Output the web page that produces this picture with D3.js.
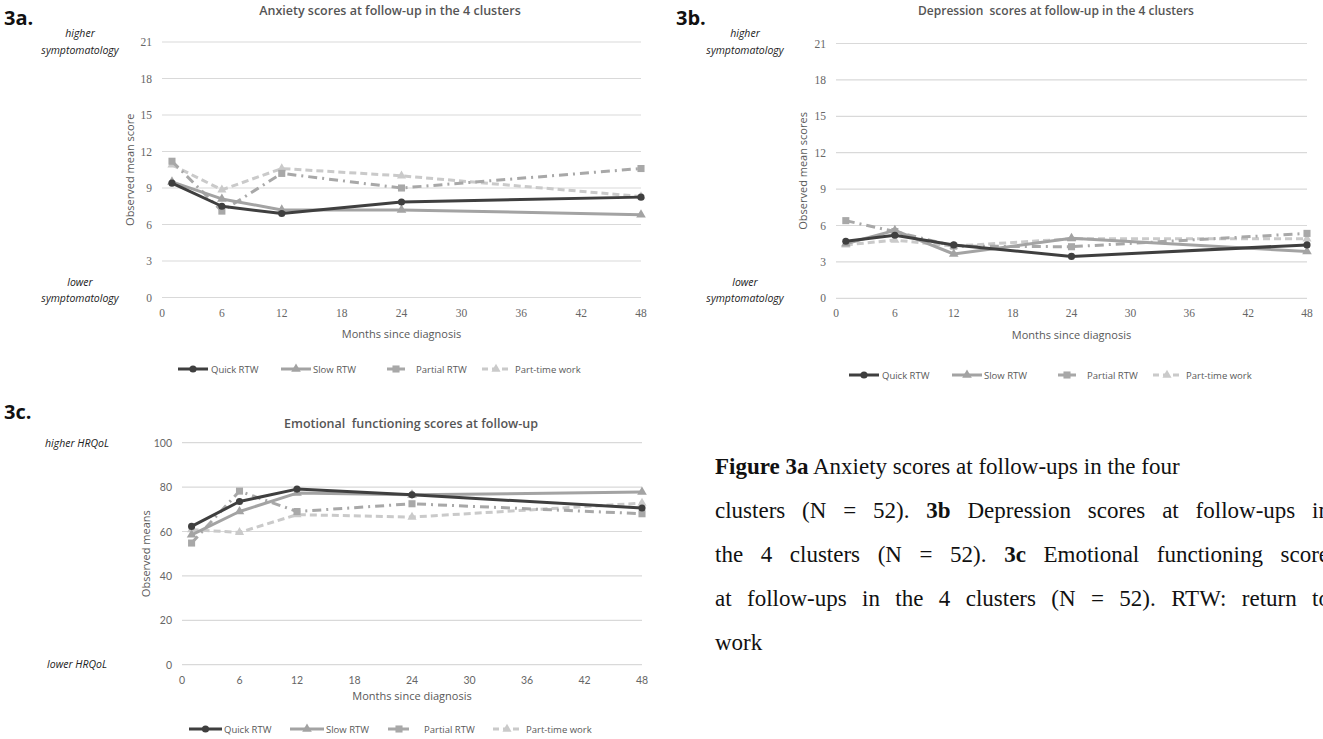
<!DOCTYPE html>
<html>
<head>
<meta charset="utf-8">
<script src="https://cdn.jsdelivr.net/npm/d3@7"></script>
<style>
  body { margin: 0; background: #fff; overflow: hidden; }
  svg { display: block; font-family: "Open Sans", "Lato", sans-serif; }
</style>
</head>
<body>
<svg class="chart" width="1323" height="739"></svg>
<script>
// months since diagnosis at each follow-up
var months = [1, 6, 12, 24, 48];
var xTicks = [0, 6, 12, 18, 24, 30, 36, 42, 48];
var clusters = ["Quick RTW", "Slow RTW", "Partial RTW", "Part-time work"];

// 3a anxiety
var anxQuick = [9.4, 7.5, 6.9, 7.85, 8.25];
var anxSlow = [9.5, 8.1, 7.2, 7.2, 6.8];
var anxPartial = [11.2, 7.1, 10.2, 9.0, 10.6];
var anxParttime = [10.9, 8.85, 10.6, 10.0, 8.3];

// 3b depression
var depQuick = [4.7, 5.2, 4.4, 3.45, 4.4];
var depSlow = [4.5, 5.6, 3.65, 4.95, 3.85];
var depPartial = [6.4, 5.5, 4.3, 4.25, 5.35];
var depParttime = [4.4, 4.8, 4.3, 4.9, 4.9];

// 3c emotional functioning
var emoQuick = [62.3, 73.5, 79.1, 76.5, 70.6];
var emoSlow = [58.5, 69, 77.3, 76.5, 77.8];
var emoPartial = [54.8, 78.2, 69, 72.5, 68];
var emoParttime = [60.8, 59.6, 67.6, 66.5, 72.8];

var hadsTicks = [0, 3, 6, 9, 12, 15, 18, 21];
var emoTicks = [0, 20, 40, 60, 80, 100];

var svg = d3.select(".chart");

var styles = [
    {color: "#3f3f3f", dash: null, width: 3, marker: d3.symbolCircle, size: 40},
    {color: "#a3a3a3", dash: null, width: 3, marker: d3.symbolTriangle, size: 40},
    {color: "#a8a8a8", dash: "9,5,2,5", width: 3, marker: d3.symbolSquare, size: 50},
    {color: "#cacaca", dash: "7,4", width: 3, marker: d3.symbolTriangle, size: 36}
];

function drawPanel(p) {
    var x = d3.scaleLinear().domain([0, 48]).range([p.x0, p.x1]);
    var y = d3.scaleLinear().domain([0, p.ymax]).range([p.y0, p.y1]);
    var g = svg.append("g");

    // panel label
    g.append("text").attr("x", p.labelX).attr("y", p.labelY)
        .attr("font-size", 20).attr("font-weight", "bold").attr("fill", "#111")
        .text(p.label);

    // title
    g.append("text").attr("x", p.titleX).attr("y", p.titleY)
        .attr("text-anchor", "middle").attr("font-size", p.titleSize).attr("font-weight", 600)
        .attr("fill", "#555").attr("xml:space", "preserve")
        .text(p.title);

    // gridlines
    g.selectAll(".grid").data(p.yTicks).enter().append("line")
        .attr("x1", p.x0).attr("x2", p.x1)
        .attr("y1", function(d) { return y(d); }).attr("y2", function(d) { return y(d); })
        .attr("stroke", "#d9d9d9").attr("stroke-width", 1.2);

    // y ticks
    g.selectAll(".yt").data(p.yTicks).enter().append("text")
        .attr("x", p.x0 - 10).attr("y", function(d) { return y(d) + 4; })
        .attr("text-anchor", "end").attr("font-size", p.tickSize).attr("fill", "#666")
        .attr("font-family", p.tickFont)
        .text(function(d) { return d; });

    // x ticks
    g.selectAll(".xt").data(xTicks).enter().append("text")
        .attr("x", function(d) { return x(d); }).attr("y", p.y0 + 19)
        .attr("text-anchor", "middle").attr("font-size", p.tickSize).attr("fill", "#666")
        .attr("font-family", p.tickFont)
        .text(function(d) { return d; });

    // axis titles
    g.append("text").attr("x", (p.x0 + p.x1) / 2).attr("y", p.xTitleY)
        .attr("text-anchor", "middle").attr("font-size", 11).attr("fill", "#595959")
        .text("Months since diagnosis");
    g.append("text")
        .attr("transform", "translate(" + p.yTitleX + "," + ((p.y0 + p.y1) / 2) + ") rotate(-90)")
        .attr("text-anchor", "middle").attr("font-size", 11).attr("fill", "#595959")
        .text(p.yTitle);

    // side notes
    p.notes.forEach(function(n) {
        g.append("text").attr("x", n.x).attr("y", n.y)
            .attr("text-anchor", "middle").attr("font-size", 10.5)
            .attr("font-style", "italic").attr("fill", "#222")
            .text(n.t);
    });

    // series
    var line = d3.line()
        .x(function(d, i) { return x(months[i]); })
        .y(function(d) { return y(d); });
    var order = [3, 2, 1, 0];
    order.forEach(function(k) {
        var s = styles[k];
        g.append("path").datum(p.series[k])
            .attr("d", line).attr("fill", "none")
            .attr("stroke", s.color).attr("stroke-width", s.width)
            .attr("stroke-dasharray", s.dash)
            .attr("stroke-linejoin", "round");
        g.selectAll(".m" + k).data(p.series[k]).enter().append("path")
            .attr("transform", function(d, i) { return "translate(" + x(months[i]) + "," + y(d) + ")"; })
            .attr("d", d3.symbol().type(s.marker).size(s.size))
            .attr("fill", s.color);
    });

    // legend
    clusters.forEach(function(c, k) {
        var s = styles[k];
        var lx = p.legend[k];
        var lg = g.append("g").attr("transform", "translate(" + lx + "," + p.legendY + ")");
        lg.append("line").attr("x1", 0).attr("x2", p.legendLen[k])
            .attr("stroke", s.color).attr("stroke-width", 3)
            .attr("stroke-dasharray", s.dash ? (k === 2 ? "9,3" : "6,4") : null);
        lg.append("path").attr("transform", "translate(" + (p.legendLen[k] / 2) + ",0)")
            .attr("d", d3.symbol().type(s.marker).size(s.size)).attr("fill", s.color);
        lg.append("text").attr("x", p.legendText[k]).attr("y", 3.5)
            .attr("font-size", 9.5).attr("fill", "#595959").text(c);
    });
}

drawPanel({
    label: "3a.", labelX: 4, labelY: 25,
    title: "Anxiety scores at follow-up in the 4 clusters", titleX: 390, titleY: 15, titleSize: 12.5,
    x0: 162, x1: 641, y0: 297.5, y1: 42, ymax: 21, yTicks: hadsTicks,
    tickFont: "Liberation Serif", tickSize: 11.5,
    xTitleY: 338, yTitle: "Observed mean score", yTitleX: 134,
    notes: [{x: 80, y: 37, t: "higher"}, {x: 80, y: 54, t: "symptomatology"},
            {x: 80, y: 286, t: "lower"}, {x: 80, y: 302, t: "symptomatology"}],
    series: [anxQuick, anxSlow, anxPartial, anxParttime],
    legendY: 369, legend: [178, 281, 387, 482], legendLen: [30, 30, 18, 28],
    legendText: [33, 32, 29, 33]
});

drawPanel({
    label: "3b.", labelX: 676, labelY: 25,
    title: "Depression  scores at follow-up in the 4 clusters", titleX: 1056, titleY: 15, titleSize: 12,
    x0: 836, x1: 1307, y0: 298.3, y1: 43.5, ymax: 21, yTicks: hadsTicks,
    tickFont: "Liberation Serif", tickSize: 11.5,
    xTitleY: 339, yTitle: "Observed mean scores", yTitleX: 807,
    notes: [{x: 745, y: 37, t: "higher"}, {x: 745, y: 54, t: "symptomatology"},
            {x: 745, y: 286, t: "lower"}, {x: 745, y: 302, t: "symptomatology"}],
    series: [depQuick, depSlow, depPartial, depParttime],
    legendY: 375, legend: [849, 952, 1058, 1153], legendLen: [30, 30, 18, 28],
    legendText: [33, 32, 29, 33]
});

drawPanel({
    label: "3c.", labelX: 4, labelY: 419,
    title: "Emotional  functioning scores at follow-up", titleX: 411, titleY: 428, titleSize: 12.5,
    x0: 182, x1: 642, y0: 664.7, y1: 442.7, ymax: 100, yTicks: emoTicks,
    tickFont: "Lato", tickSize: 10.5,
    xTitleY: 700, yTitle: "Observed means", yTitleX: 150,
    notes: [{x: 77, y: 447, t: "higher HRQoL"}, {x: 77, y: 668, t: "lower HRQoL"}],
    series: [emoQuick, emoSlow, emoPartial, emoParttime],
    legendY: 729, legend: [189, 290, 388, 493], legendLen: [33, 34, 22, 28],
    legendText: [35, 36, 36, 33]
});

// caption, justified lines run past the right edge like the source
var captionLines = [
    [["Figure 3a", true], [" Anxiety scores at follow-ups in the four", false]],
    [["clusters (N = 52). ", false], ["3b", true], [" Depression scores at follow-ups in", false]],
    [["the 4 clusters (N = 52). ", false], ["3c", true], [" Emotional functioning scores", false]],
    [["at follow-ups in the 4 clusters (N = 52). RTW: return to", false]],
    [["work", false]]
];
var captionEnd = [null, 1330, 1338, 1330, null];
var cap = svg.append("g");
captionLines.forEach(function(ln, i) {
    var t = cap.append("text").attr("x", 715).attr("y", 474 + i * 44)
        .attr("font-family", "Liberation Serif").attr("font-size", 23).attr("fill", "#111")
        .attr("xml:space", "preserve");
    var txt = "";
    ln.forEach(function(seg) {
        t.append("tspan").attr("font-weight", seg[1] ? "bold" : "normal").text(seg[0]);
        txt += seg[0];
    });
    if (captionEnd[i]) {
        var natural = t.node().getComputedTextLength();
        var gaps = txt.split(" ").length - 1;
        t.style("word-spacing", Math.max(0, (captionEnd[i] - 715 - natural) / gaps) + "px");
    }
});
</script>
</body>
</html>
